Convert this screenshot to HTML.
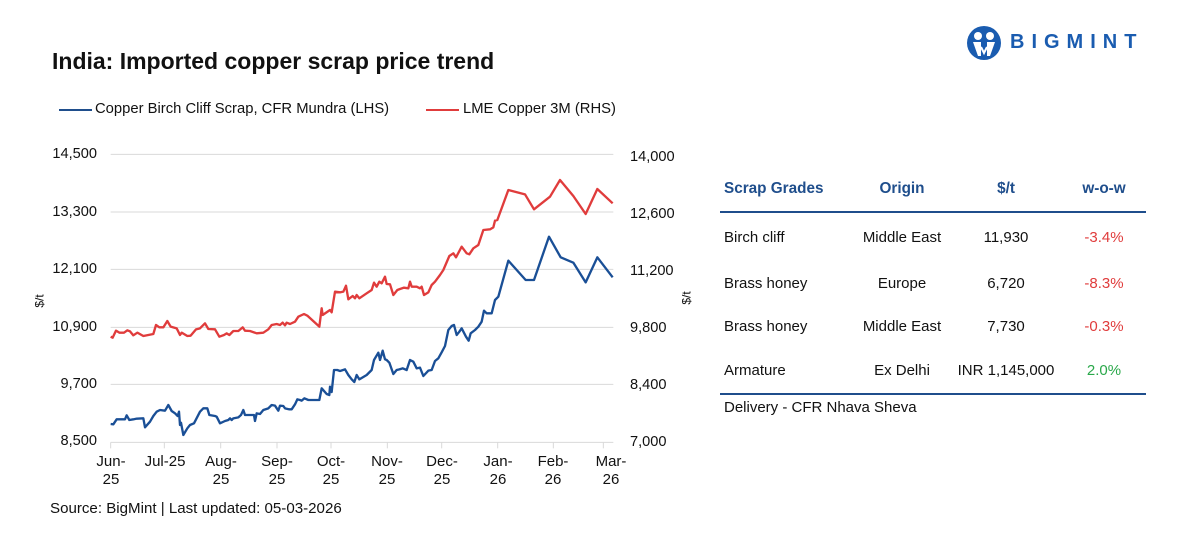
<!DOCTYPE html>
<html><head><meta charset="utf-8"><style>
body{margin:0;width:1188px;height:544px;background:#fff;position:relative;overflow:hidden;font-family:"Liberation Sans",sans-serif;color:#111}
.a{position:absolute;white-space:nowrap}
.l{width:60px;text-align:right;font-size:14.6px}
.r{font-size:14.6px}
.x{font-size:15px;text-align:center;width:60px;line-height:18px}
.th{font-weight:bold;color:#1f4e8c;font-size:15.3px}
.td{font-size:15px}
.c{text-align:center;width:160px}
</style></head><body>
<div class="a" style="left:52px;top:48px;font-size:23px;font-weight:bold">India: Imported copper scrap price trend</div>
<div class="a" style="left:59px;top:109px;width:33px;height:2px;background:#1f4e8c"></div>
<div class="a" style="left:95px;top:101px;font-size:14.8px">Copper Birch Cliff Scrap, CFR Mundra (LHS)</div>
<div class="a" style="left:426px;top:109px;width:33px;height:2px;background:#e03c3c"></div>
<div class="a" style="left:463px;top:101px;font-size:14.8px">LME Copper 3M (RHS)</div>

<!-- logo -->
<svg class="a" style="left:966px;top:25px" width="36" height="36" viewBox="0 0 36 36">
<circle cx="18" cy="18" r="17" fill="#1a5cb0"/>
<circle cx="12" cy="11" r="4" fill="#fff"/><circle cx="24" cy="11" r="4" fill="#fff"/>
<path d="M7 17h8v14h-3zM29 17h-8v14h3z" fill="#fff"/><path d="M15 22l3 6 3-6" stroke="#fff" stroke-width="2" fill="none"/>
</svg>
<div class="a" style="left:1010px;top:31px;font-size:20px;font-weight:bold;color:#1a5cb0;letter-spacing:7px">BIGMINT</div>

<!-- axes labels -->
<div class="a l" style="left:37px;top:146px">14,500</div>
<div class="a l" style="left:37px;top:204px">13,300</div>
<div class="a l" style="left:37px;top:261px">12,100</div>
<div class="a l" style="left:37px;top:319px">10,900</div>
<div class="a l" style="left:37px;top:376px">9,700</div>
<div class="a l" style="left:37px;top:433px">8,500</div>
<div class="a r" style="left:630px;top:149px">14,000</div>
<div class="a r" style="left:630px;top:206px">12,600</div>
<div class="a r" style="left:630px;top:263px">11,200</div>
<div class="a r" style="left:630px;top:320px">9,800</div>
<div class="a r" style="left:630px;top:377px">8,400</div>
<div class="a r" style="left:630px;top:434px">7,000</div>
<div class="a" style="left:33px;top:294px;font-size:12px;transform:rotate(-90deg)">$/t</div>
<div class="a" style="left:680px;top:291px;font-size:12px;transform:rotate(-90deg)">$/t</div>

<svg class="a" style="left:100px;top:140px" width="530" height="310" viewBox="0 0 1590 930">
<g stroke="#d9d9d9" stroke-width="3">
<line x1="32" y1="43" x2="1540" y2="43"/><line x1="32" y1="216" x2="1540" y2="216"/><line x1="32" y1="388" x2="1540" y2="388"/><line x1="32" y1="562" x2="1540" y2="562"/><line x1="32" y1="733" x2="1540" y2="733"/><line x1="32" y1="907" x2="1540" y2="907"/>
<line x1="32" y1="907" x2="32" y2="925"/><line x1="193" y1="907" x2="193" y2="925"/><line x1="362" y1="907" x2="362" y2="925"/><line x1="531" y1="907" x2="531" y2="925"/><line x1="693" y1="907" x2="693" y2="925"/><line x1="862" y1="907" x2="862" y2="925"/><line x1="1025" y1="907" x2="1025" y2="925"/><line x1="1193" y1="907" x2="1193" y2="925"/><line x1="1360" y1="907" x2="1360" y2="925"/><line x1="1510" y1="907" x2="1510" y2="925"/>
</g>
<polyline fill="none" stroke="#e03c3c" stroke-width="7" stroke-linejoin="round" points="32,590 38,593 48,572 58,578 72,578 82,571 90,574 100,586 112,578 130,588 160,582 168,555 178,562 190,562 202,543 212,560 230,565 240,585 245,578 262,588 272,587 288,568 300,565 315,550 325,567 345,568 358,590 372,585 380,580 388,585 400,573 415,573 428,562 435,572 450,573 470,580 490,578 505,568 515,555 530,552 540,555 548,548 555,556 560,548 570,552 585,545 595,530 612,522 622,527 658,560 665,505 668,525 690,510 695,517 705,455 720,457 730,455 738,437 745,478 758,468 765,475 770,465 778,475 800,460 815,450 822,428 830,440 838,425 845,430 855,410 860,432 870,433 880,465 892,450 900,447 912,443 925,445 930,425 935,440 950,440 960,445 965,440 972,465 985,457 995,435 1005,425 1020,405 1030,390 1048,348 1060,340 1068,352 1085,320 1100,340 1108,343 1120,325 1135,315 1150,270 1170,268 1180,262 1185,242 1192,240 1225,150 1275,163 1302,208 1350,170 1380,120 1420,168 1457,222 1492,147 1538,190"/>
<polyline fill="none" stroke="#1a4f96" stroke-width="7" stroke-linejoin="round" points="32,852 40,853 50,838 75,838 80,826 88,840 100,838 110,836 130,835 135,862 150,845 160,828 170,815 180,810 195,812 205,795 215,813 225,820 233,828 237,815 240,855 243,848 250,885 262,865 270,855 282,850 300,815 310,805 322,805 328,825 345,828 350,830 360,850 375,843 385,840 390,835 395,840 400,835 415,832 423,825 430,810 435,825 448,825 462,825 465,843 470,820 480,822 490,810 505,805 515,795 525,797 535,812 540,797 550,798 555,805 568,808 575,808 585,793 592,778 600,780 605,782 613,775 625,780 658,780 665,745 680,762 688,765 690,740 695,756 702,690 712,690 720,693 735,688 745,705 755,718 763,726 770,705 778,718 800,705 815,690 822,660 835,638 840,660 848,632 855,658 860,660 868,668 880,702 890,690 898,688 908,685 920,690 930,660 940,665 950,685 960,683 970,708 985,692 995,690 1005,663 1015,655 1025,637 1035,618 1045,570 1055,558 1062,555 1070,585 1078,575 1085,565 1098,590 1106,602 1112,580 1125,570 1135,560 1145,545 1152,512 1160,520 1175,520 1185,480 1195,470 1225,362 1277,420 1302,420 1347,290 1382,352 1420,368 1457,427 1492,352 1538,412"/>
</svg>

<div class="a x" style="left:81px;top:453px">Jun-<br>25</div>
<div class="a x" style="left:135px;top:453px">Jul-25</div>
<div class="a x" style="left:191px;top:453px">Aug-<br>25</div>
<div class="a x" style="left:247px;top:453px">Sep-<br>25</div>
<div class="a x" style="left:301px;top:453px">Oct-<br>25</div>
<div class="a x" style="left:357px;top:453px">Nov-<br>25</div>
<div class="a x" style="left:412px;top:453px">Dec-<br>25</div>
<div class="a x" style="left:468px;top:453px">Jan-<br>26</div>
<div class="a x" style="left:523px;top:453px">Feb-<br>26</div>
<div class="a x" style="left:581px;top:453px">Mar-<br>26</div>
<div class="a" style="left:50px;top:500px;font-size:15.1px">Source: BigMint | Last updated: 05-03-2026</div>

<!-- table -->
<div class="a th" style="left:724px;top:180px">Scrap Grades</div>
<div class="a th c" style="left:822px;top:180px">Origin</div>
<div class="a th c" style="left:926px;top:180px">$/t</div>
<div class="a th c" style="left:1024px;top:180px">w-o-w</div>
<div class="a" style="left:720px;top:211px;width:426px;height:2px;background:#1f4e8c"></div>
<div class="a td" style="left:724px;top:229px">Birch cliff</div>
<div class="a td c" style="left:822px;top:229px">Middle East</div>
<div class="a td c" style="left:926px;top:229px">11,930</div>
<div class="a td c" style="left:1024px;top:229px;color:#e03c3c">-3.4%</div>
<div class="a td" style="left:724px;top:275px">Brass honey</div>
<div class="a td c" style="left:822px;top:275px">Europe</div>
<div class="a td c" style="left:926px;top:275px">6,720</div>
<div class="a td c" style="left:1024px;top:275px;color:#e03c3c">-8.3%</div>
<div class="a td" style="left:724px;top:318px">Brass honey</div>
<div class="a td c" style="left:822px;top:318px">Middle East</div>
<div class="a td c" style="left:926px;top:318px">7,730</div>
<div class="a td c" style="left:1024px;top:318px;color:#e03c3c">-0.3%</div>
<div class="a td" style="left:724px;top:362px">Armature</div>
<div class="a td c" style="left:822px;top:362px">Ex Delhi</div>
<div class="a td c" style="left:926px;top:362px">INR 1,145,000</div>
<div class="a td c" style="left:1024px;top:362px;color:#2aa84a">2.0%</div>
<div class="a" style="left:720px;top:393px;width:426px;height:2px;background:#1f4e8c"></div>
<div class="a td" style="left:724px;top:399px">Delivery - CFR Nhava Sheva</div>
</body></html>
